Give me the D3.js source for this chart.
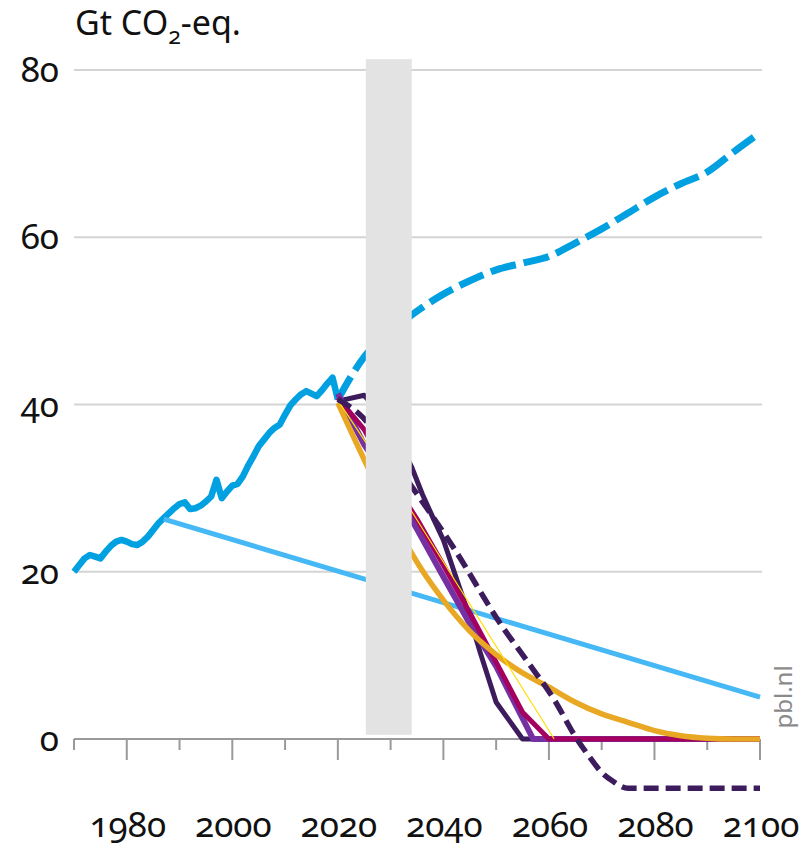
<!DOCTYPE html>
<html>
<head>
<meta charset="utf-8">
<script src="https://cdn.jsdelivr.net/npm/d3@7"></script>
<style>
  html, body { margin: 0; padding: 0; background: #fff; }
  svg { display: block; font-family: "Noto Sans", "Open Sans", sans-serif; font-variant-numeric: oldstyle-nums; font-feature-settings: "onum" 1; }
</style>
</head>
<body>
<svg id="chart" width="807" height="846"></svg>
<script>
// ---------------- data ----------------
const yTicks = [0, 20, 40, 60, 80];
const xTickYears = [1970, 1980, 1990, 2000, 2010, 2020, 2030, 2040, 2050, 2060, 2070, 2080, 2090, 2100];
const xLabelYears = [1980, 2000, 2020, 2040, 2060, 2080, 2100];
const yUnit = "Gt CO";
const sourceLabel = "pbl.nl";

// historical emissions 1970-2020
const histYears = [1970,1971,1972,1973,1974,1975,1976,1977,1978,1979,1980,1981,1982,1983,1984,1985,1986,1987,1988,1989,1990,1991,1992,1993,1994,1995,1996,1997,1998,1999,2000,2001,2002,2003,2004,2005,2006,2007,2008,2009,2010,2011,2012,2013,2014,2015,2016,2017,2018,2019,2020];
const histValues = [20.0,20.8,21.6,22.0,21.8,21.6,22.4,23.1,23.6,23.8,23.6,23.3,23.2,23.6,24.2,25.0,25.8,26.4,27.0,27.6,28.1,28.3,27.5,27.6,27.9,28.4,29.0,31.0,28.8,29.6,30.3,30.5,31.4,32.7,33.8,35.0,35.8,36.6,37.2,37.6,38.8,39.9,40.6,41.2,41.6,41.3,41.0,41.7,42.5,43.2,40.6];

// baseline (dashed)
const baseYears  = [2020,2025,2030,2034,2040,2045,2050,2055,2060,2065,2070,2075,2080,2085,2090,2095,2100];
const baseValues = [40.6,45.7,48.7,50.7,53.2,54.8,56.1,56.9,57.7,59.3,61.0,62.9,64.8,66.4,67.8,70.2,72.5];

// straight light-blue line
const trendYears  = [1987, 2100];
const trendValues = [26.3, 5.0];

// scenario pathways
const darkYears  = [2020,2025,2030,2034,2036,2038,2040,2045,2047,2050,2055,2100];
const darkValues = [40.4,41.1,37.5,32.5,29.3,26.5,23.8,14.5,10.3,4.4,0,0];

const purpleYears  = [2020,2025,2030,2035,2040,2045,2050,2057,2100];
const purpleValues = [41.3,35.2,30.5,25.1,19.4,13.8,8.7,0,0];

const magentaYears  = [2020,2025,2030,2035,2040,2045,2050,2055,2060,2100];
const magentaValues = [40.8,37.0,31.2,26.3,20.8,15.1,9.2,3.2,0,0];

const orangeYears  = [2020,2025,2030,2034,2040,2045,2050,2055,2060,2065,2070,2075,2080,2085,2090,2095,2100];
const orangeValues = [40.2,33.4,27.0,22.2,16.6,12.9,10.1,7.9,6.2,4.4,3.0,2.0,1.0,0.4,0.1,0,0];

const thinYears  = [2020, 2034, 2061];
const thinValues = [40.5, 27.2, 0];

const dashDarkYears  = [2020,2024,2034,2042,2051,2056,2061,2065,2068,2070,2072,2075,2100];
const dashDarkValues = [40.6,38.9,30.2,22.8,13.6,9.2,4.7,0.3,-2.4,-4.0,-5.0,-5.9,-5.9];

// grey break band
const bandYears  = [2025.3, 2034];
const bandValues = [0.5, 81.3];

// ---------------- drawing ----------------
const svg = d3.select("#chart");
const x = d3.scaleLinear().domain([1970, 2100]).range([74, 760]);
const y = d3.scaleLinear().domain([0, 80]).range([739, 70]);

// gridlines
svg.append("g").selectAll("line").data(yTicks.filter(d => d > 0)).join("line")
  .attr("x1", x(1970)).attr("x2", x(2100) + 2)
  .attr("y1", d => y(d)).attr("y2", d => y(d))
  .attr("stroke", "#d4d4d4").attr("stroke-width", 2);

// y labels
svg.append("g").selectAll("text").data(yTicks).join("text")
  .attr("x", 59).attr("y", d => y(d) + 12)
  .attr("text-anchor", "end")
  .attr("font-size", 35).attr("fill", "#111")
  .text(d => d);

// unit title
const title = svg.append("text").attr("x", 75).attr("y", 35)
  .attr("font-size", 34).attr("fill", "#111");
title.append("tspan").text(yUnit);
title.append("tspan").attr("dy", 9).attr("font-size", 23).text("2");
title.append("tspan").attr("dy", -9).text("-eq.");

// x axis line and ticks
const axisG = svg.append("g");
axisG.append("line").attr("x1", x(1970)).attr("x2", x(2100))
  .attr("y1", y(0)).attr("y2", y(0)).attr("stroke", "#9a9a9a").attr("stroke-width", 2);
axisG.selectAll("line.tick").data(xTickYears).join("line").attr("class", "tick")
  .attr("x1", d => x(d)).attr("x2", d => x(d))
  .attr("y1", y(0)).attr("y2", d => y(0) + (xLabelYears.includes(d) ? 21 : 11))
  .attr("stroke", "#9a9a9a").attr("stroke-width", 2);
axisG.selectAll("text").data(xLabelYears).join("text")
  .attr("x", d => x(d) + 1).attr("y", 837)
  .attr("text-anchor", "middle").attr("font-size", 35).attr("fill", "#111")
  .text(d => d);

function series(years, values) { return years.map((yr, i) => [yr, values[i]]); }
const lin = d3.line().x(d => x(d[0])).y(d => y(d[1]));
const smooth = d3.line().x(d => x(d[0])).y(d => y(d[1])).curve(d3.curveMonotoneX);

function draw(data, gen, color, width, dash) {
  const p = svg.append("path").datum(data).attr("d", gen)
    .attr("fill", "none").attr("stroke", color).attr("stroke-width", width)
    .attr("stroke-linejoin", "round");
  if (dash) p.attr("stroke-dasharray", dash);
  return p;
}

draw(series(histYears, histValues), lin, "#00a0e1", 6.5);
draw(series(baseYears, baseValues), smooth, "#00a0e1", 7, "26 8");
draw(series(trendYears, trendValues), lin, "#45b8f5", 5);
draw(series(darkYears, darkValues), lin, "#3c1c5c", 5);
draw(series(purpleYears, purpleValues), lin, "#7530a2", 6);
draw(series(magentaYears, magentaValues), lin, "#a3005f", 5);
draw(series(orangeYears, orangeValues), smooth, "#e8a823", 5.5);
draw(series(thinYears, thinValues), lin, "#ffdf00", 1.2);
draw(series(dashDarkYears, dashDarkValues), smooth, "#3c1c5c", 5.5, "15 7");

// grey band
svg.append("rect")
  .attr("x", x(bandYears[0])).attr("width", x(bandYears[1]) - x(bandYears[0]))
  .attr("y", y(bandValues[1])).attr("height", y(bandValues[0]) - y(bandValues[1]))
  .attr("fill", "#e3e3e3");

// source label
svg.append("text")
  .attr("transform", `translate(792,697) rotate(-90)`)
  .attr("text-anchor", "middle").attr("font-size", 24).attr("fill", "#8a8a8a")
  .text(sourceLabel);
</script>
</body>
</html>
